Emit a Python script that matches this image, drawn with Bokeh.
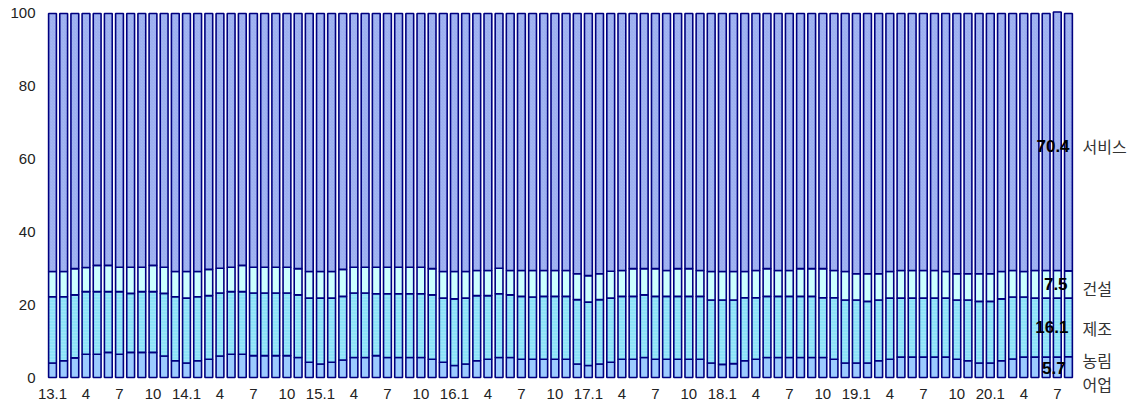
import numpy as np
from bokeh.plotting import figure
from bokeh.models import FixedTicker, Label, LinearAxis
from bokeh.embed import file_html
from bokeh.resources import INLINE

# 2013.1 ~ 2020.8 monthly (92 bars)
years = [13, 14, 15, 16, 17, 18, 19, 20]
categories = [f"{y}.{m}" for y in years for m in range(1, 13)][:92]

agri = [4.0, 4.6, 5.4, 6.4, 6.4, 6.9, 6.4, 6.9, 6.9, 6.9, 5.9, 4.6,
        4.0, 4.6, 5.0, 5.9, 6.4, 6.4, 6.0, 6.0, 6.0, 6.0, 5.5, 4.2,
        3.7, 4.2, 4.8, 5.5, 5.5, 6.0, 5.5, 5.5, 5.5, 5.5, 5.0, 4.2,
        3.3, 3.7, 4.6, 5.0, 5.5, 5.5, 5.0, 5.0, 5.0, 5.0, 5.0, 3.7,
        3.3, 3.7, 4.2, 5.0, 5.0, 5.5, 5.0, 5.0, 5.0, 5.0, 5.0, 4.0,
        3.6, 3.8, 4.6, 5.0, 5.5, 5.5, 5.5, 5.5, 5.5, 5.5, 5.0, 4.0,
        4.0, 4.0, 4.6, 5.0, 5.6, 5.6, 5.6, 5.6, 5.6, 5.0, 4.6, 4.0,
        4.0, 4.6, 5.1, 5.6, 5.6, 5.6, 5.6, 5.7]
mfg = [18.2, 17.6, 17.3, 17.2, 17.2, 16.7, 17.2, 16.2, 16.7, 16.7, 17.2, 17.6,
       17.8, 17.6, 17.5, 17.3, 17.2, 17.2, 17.2, 17.2, 17.2, 17.2, 17.2, 17.6,
       18.1, 17.6, 17.5, 17.7, 17.7, 17.0, 17.5, 17.5, 17.5, 17.5, 17.7, 17.6,
       18.3, 18.1, 17.9, 17.5, 17.5, 17.2, 17.3, 17.1, 17.3, 17.3, 17.3, 17.7,
       17.4, 17.7, 17.6, 17.3, 17.3, 17.2, 17.3, 17.3, 17.3, 17.3, 17.3, 17.3,
       17.7, 17.5, 17.3, 16.9, 16.8, 16.8, 16.8, 16.8, 16.8, 16.4, 16.9, 17.3,
       17.3, 16.9, 16.7, 16.8, 16.2, 16.2, 16.2, 16.2, 16.2, 16.3, 16.7, 16.9,
       16.9, 17.0, 17.0, 16.5, 16.2, 16.2, 16.2, 16.1]
con = [6.9, 6.9, 7.2, 6.6, 7.2, 7.2, 6.7, 7.2, 6.7, 7.2, 7.2, 6.9,
       7.3, 6.9, 7.2, 6.8, 6.7, 7.2, 7.1, 7.1, 7.1, 7.1, 7.2, 7.3,
       7.3, 7.3, 7.4, 7.1, 7.1, 7.3, 7.3, 7.3, 7.3, 7.3, 7.2, 7.3,
       7.5, 7.3, 6.9, 6.9, 7.0, 6.7, 7.1, 7.3, 7.1, 7.1, 7.1, 7.1,
       7.3, 7.1, 7.4, 7.1, 7.6, 7.2, 7.6, 7.1, 7.6, 7.6, 7.1, 7.8,
       7.8, 7.8, 7.2, 7.5, 7.6, 7.1, 7.1, 7.6, 7.6, 8.0, 7.5, 7.8,
       7.2, 7.6, 7.2, 7.3, 7.6, 7.6, 7.6, 7.6, 7.3, 7.2, 7.2, 7.6,
       7.6, 7.5, 7.3, 7.0, 7.6, 7.6, 7.6, 7.5]
serv = [70.9, 70.9, 70.1, 69.8, 69.2, 69.2, 69.7, 69.7, 69.7, 69.2, 69.7, 70.9,
        70.9, 70.9, 70.3, 70.0, 69.7, 69.2, 69.7, 69.7, 69.7, 69.7, 70.1, 70.9,
        70.9, 70.9, 70.3, 69.7, 69.7, 69.7, 69.7, 69.7, 69.7, 69.7, 70.1, 70.9,
        70.9, 70.9, 70.6, 70.6, 70.0, 70.6, 70.6, 70.6, 70.6, 70.6, 70.6, 71.5,
        72.0, 71.5, 70.8, 70.6, 70.1, 70.1, 70.1, 70.6, 70.1, 70.1, 70.6, 70.9,
        70.9, 70.9, 70.9, 70.6, 70.1, 70.6, 70.6, 70.1, 70.1, 70.1, 70.6, 70.9,
        71.5, 71.5, 71.5, 70.9, 70.6, 70.6, 70.6, 70.6, 70.9, 71.5, 71.5, 71.5,
        71.5, 70.9, 70.6, 70.9, 70.6, 70.6, 71.0, 70.7]

tick_labels = ["13.1", "4", "7", "10", "14.1", "4", "7", "10",
               "15.1", "4", "7", "10", "16.1", "4", "7", "10",
               "17.1", "4", "7", "10", "18.1", "4", "7", "10",
               "19.1", "4", "7", "10", "20.1", "4", "7"]

series_names = ["농림\n어업", "제조", "건설", "서비스"]
last_values = ["5.7", "16.1", "7.5", "70.4"]

x = np.arange(len(categories))
stack = np.array([agri, mfg, con, serv], dtype=float)
tops = np.cumsum(stack, axis=0)
bottoms = tops - stack

fills = ["#9CCBFF", "#8EE2F8", "#CCFFFF", "#A4B7F3"]
hatches = [None, "horizontal_line", None, "right_diagonal_line"]
hatch_cols = [None, "#B4EEFC", None, "#8CA1E8"]

p = figure(width=1144, height=409, output_backend="svg", toolbar_location=None,
           x_range=(-0.717, 91.72), y_range=(-0.824, 102.47),
           min_border_left=44, min_border_right=68, min_border_top=4,
           min_border_bottom=29)
p.outline_line_color = None
p.background_fill_color = "white"
p.border_fill_color = "white"
p.grid.visible = False

for i in range(4):
    kw = dict(x=x, width=0.7, bottom=bottoms[i], top=tops[i],
              fill_color=fills[i], line_color="#000080", line_width=1.6)
    if hatches[i]:
        kw.update(hatch_pattern=hatches[i], hatch_color=hatch_cols[i],
                  hatch_scale=3, hatch_weight=0.8, hatch_alpha=0.5)
    p.vbar(**kw)

tick_pos = list(range(0, 92, 3))[:len(tick_labels)]
p.xaxis.ticker = FixedTicker(ticks=tick_pos)
p.xaxis.major_label_overrides = {t: l for t, l in zip(tick_pos, tick_labels)}
p.yaxis.ticker = FixedTicker(ticks=[0, 20, 40, 60, 80, 100])

# right-side series names as a right axis
name_y = [1.5, 13.7, 24.5, 63.7]
raxis = LinearAxis(ticker=FixedTicker(ticks=name_y),
                   major_label_overrides={yy: n for yy, n in zip(name_y, series_names)})
p.add_layout(raxis, "right")

for ax in (p.xaxis[0], p.yaxis[0], raxis):
    ax.axis_line_color = None
    ax.major_tick_line_color = None
    ax.minor_tick_line_color = None
    ax.major_tick_out = 0
    ax.major_tick_in = 0
    ax.minor_tick_out = 0
    ax.minor_tick_in = 0
    ax.major_label_text_font = "Liberation Sans"
    ax.major_label_text_font_size = "15px"
    ax.major_label_text_color = "#222222"
p.xaxis.major_label_standoff = 8
p.yaxis[0].major_label_standoff = 9
raxis.major_label_standoff = 6
raxis.major_label_text_font = "Noto Sans CJK KR"
raxis.major_label_text_font_size = "16px"
raxis.major_label_text_color = "#333333"
raxis.major_label_text_line_height = 1.0

# value labels for last bar
num_y = [2.7, 14.0, 25.8, 63.5]
num_x = [90.75, 91.0, 90.92, 91.1]
for v, yy, xx in zip(last_values, num_y, num_x):
    p.add_layout(Label(x=xx, y=yy, text=v, text_align="right", text_baseline="middle",
                       text_font="Liberation Sans", text_font_style="bold",
                       text_font_size="17px", text_color="#000000"))

open("out.html", "w").write(file_html(p, INLINE))
